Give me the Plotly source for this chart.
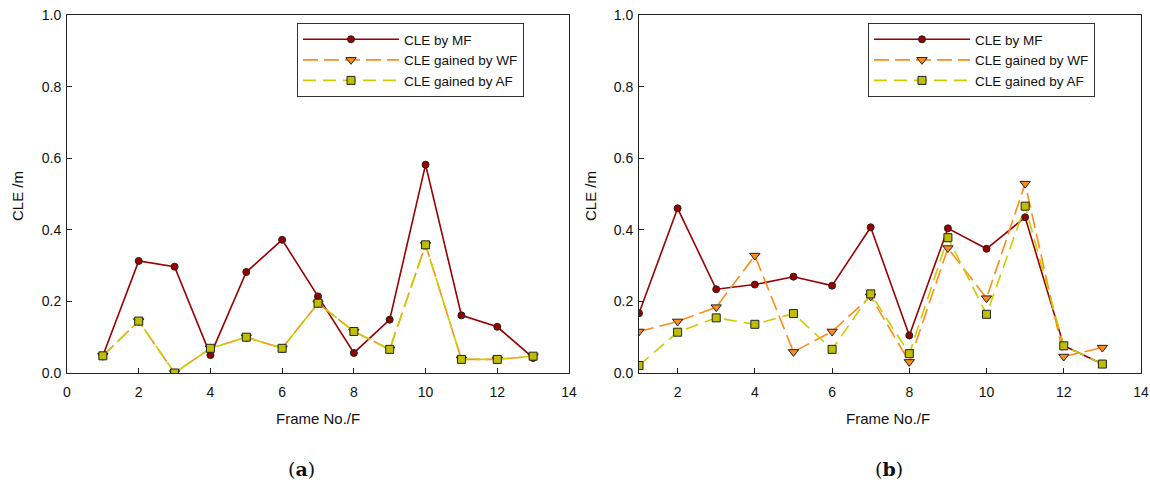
import plotly.graph_objects as go

# ---------------- data ----------------
frames = list(range(1, 14))

# panel (a)
a_mf = [0.048, 0.313, 0.297, 0.050, 0.282, 0.372, 0.214, 0.056, 0.149, 0.582, 0.161, 0.129, 0.042]
a_wf = [0.048, 0.145, 0.000, 0.069, 0.100, 0.069, 0.195, 0.116, 0.066, 0.358, 0.038, 0.038, 0.047]
a_af = [0.048, 0.145, 0.000, 0.069, 0.100, 0.069, 0.195, 0.116, 0.066, 0.358, 0.038, 0.038, 0.047]

# panel (b)
b_mf = [0.167, 0.460, 0.234, 0.247, 0.269, 0.244, 0.407, 0.105, 0.404, 0.347, 0.435, 0.076, 0.025]
b_wf = [0.116, 0.144, 0.184, 0.328, 0.059, 0.116, 0.214, 0.031, 0.349, 0.209, 0.529, 0.046, 0.071]
b_af = [0.021, 0.114, 0.154, 0.136, 0.166, 0.066, 0.221, 0.054, 0.378, 0.164, 0.466, 0.076, 0.025]

names = ["CLE by MF", "CLE gained by WF", "CLE gained by AF"]
y_ticks = [0.0, 0.2, 0.4, 0.6, 0.8, 1.0]

# ---------------- styles ----------------
MF_COL = "#990000"
WF_COL = "#FF8C1A"
AF_COL = "#CCCC00"
WF_DASH = "15px,6px"
AF_DASH = "13px,7px"
FONT = "Liberation Sans"

fig = go.Figure()

def add_panel(mf, wf, af, xa, ya, legend):
    fig.add_trace(go.Scatter(
        x=frames, y=mf, name=names[0], mode="lines+markers",
        line=dict(color=MF_COL, width=1.6),
        marker=dict(symbol="circle", size=7, color=MF_COL, line=dict(color="#222", width=1)),
        xaxis=xa, yaxis=ya, legend=legend))
    fig.add_trace(go.Scatter(
        x=frames, y=wf, name=names[1], mode="lines+markers",
        line=dict(color=WF_COL, width=1.6, dash=WF_DASH),
        marker=dict(symbol="triangle-down", size=9, color=WF_COL, line=dict(color="#222", width=1)),
        xaxis=xa, yaxis=ya, legend=legend))
    fig.add_trace(go.Scatter(
        x=frames, y=af, name=names[2], mode="lines+markers",
        line=dict(color=AF_COL, width=1.6, dash=AF_DASH),
        marker=dict(symbol="square", size=8, color="#BFBF00", line=dict(color="#222", width=1)),
        xaxis=xa, yaxis=ya, legend=legend))

add_panel(a_mf, a_wf, a_af, "x", "y", "legend")
add_panel(b_mf, b_wf, b_af, "x2", "y2", "legend2")

W, H = 1150, 486
def px(v): return v / W
def py(v): return 1 - v / H

axis_common = dict(
    showline=True, linecolor="#222", linewidth=1, mirror=True,
    ticks="inside", ticklen=5, tickcolor="#222", tickwidth=1,
    showgrid=False, zeroline=False,
    tickfont=dict(family=FONT, size=14, color="#111"),
)

legend_common = dict(
    xanchor="left", yanchor="top",
    bgcolor="white", bordercolor="#333", borderwidth=1,
    font=dict(family=FONT, size=13.5, color="#111"),
    itemwidth=96, traceorder="normal", tracegroupgap=0,
)

fig.update_layout(
    width=W, height=H,
    margin=dict(l=0, r=0, t=0, b=0, autoexpand=False),
    paper_bgcolor="white", plot_bgcolor="white",
    showlegend=True,
    xaxis=dict(domain=[px(67), px(569)], range=[0, 14], tick0=0, dtick=2,
               anchor="y", ticklabelstandoff=6, **axis_common),
    yaxis=dict(domain=[py(373), py(15)], range=[0, 1], tickvals=y_ticks, tickformat=".1f",
               anchor="x", ticklabelstandoff=2, **axis_common),
    xaxis2=dict(domain=[px(639), px(1141)], range=[1, 14], tick0=0, dtick=2,
                anchor="y2", ticklabelstandoff=6, **axis_common),
    yaxis2=dict(domain=[py(373), py(15)], range=[0, 1], tickvals=y_ticks, tickformat=".1f",
                anchor="x2", ticklabelstandoff=2, **axis_common),
    legend=dict(x=px(297), y=py(23), **legend_common),
    legend2=dict(x=px(868), y=py(23), **legend_common),
)

ann_font = dict(family=FONT, size=15, color="#111")
annotations = [
    dict(text="Frame No./F", x=px(318), y=py(418), xref="paper", yref="paper",
         showarrow=False, font=ann_font, xanchor="center", yanchor="middle"),
    dict(text="Frame No./F", x=px(888), y=py(418), xref="paper", yref="paper",
         showarrow=False, font=ann_font, xanchor="center", yanchor="middle"),
    dict(text="CLE /m", x=px(18), y=py(196), xref="paper", yref="paper", textangle=-90,
         showarrow=False, font=ann_font, xanchor="center", yanchor="middle"),
    dict(text="CLE /m", x=px(591), y=py(196), xref="paper", yref="paper", textangle=-90,
         showarrow=False, font=ann_font, xanchor="center", yanchor="middle"),
    dict(text="(<b>a</b>)", x=px(301), y=py(469), xref="paper", yref="paper",
         showarrow=False, font=dict(family="DejaVu Serif", size=19, color="#111"),
         xanchor="center", yanchor="middle"),
    dict(text="(<b>b</b>)", x=px(889), y=py(469), xref="paper", yref="paper",
         showarrow=False, font=dict(family="DejaVu Serif", size=19, color="#111"),
         xanchor="center", yanchor="middle"),
]
fig.update_layout(annotations=annotations)

fig.write_html("out.html")
